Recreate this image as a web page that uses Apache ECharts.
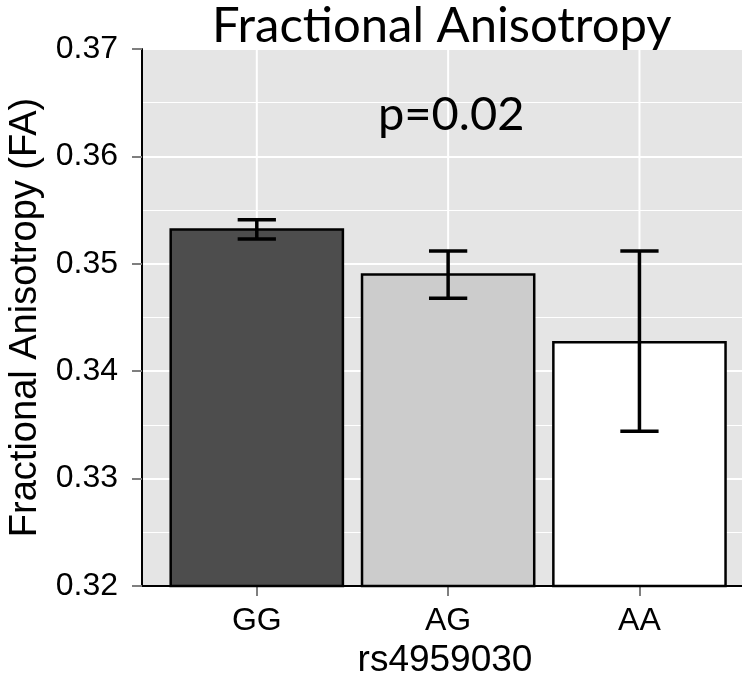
<!DOCTYPE html>
<html>
<head>
<meta charset="utf-8">
<script src="https://cdn.jsdelivr.net/npm/echarts@6/dist/echarts.min.js"></script>
<style>
html,body{margin:0;padding:0;background:#fff;}
#chart{width:742px;height:678px;}
</style>
</head>
<body>
<div id="chart"></div>
<script>
// ---- data ----
const categories = ['GG', 'AG', 'AA'];
const means = [0.3532, 0.3490, 0.3427];
const errLow = [0.3523, 0.3468, 0.3344];
const errHigh = [0.3541, 0.3512, 0.3512];
const barColors = ['#4D4D4D', '#CCCCCC', '#FFFFFF'];
const yMin = 0.32, yMax = 0.37, yStep = 0.01;
const xPositions = [1, 2, 3];
const pLabel = 'p=0.02';

const chart = echarts.init(document.getElementById('chart'), null, {renderer: 'canvas'});

const barData = categories.map((c, i) => [xPositions[i], means[i], i]);
const errData = categories.map((c, i) => [xPositions[i], errLow[i], errHigh[i]]);

const option = {
  backgroundColor: '#ffffff',
  animation: false,
  title: [
    {
      text: 'Fractional Anisotropy',
      left: 212, top: 2, padding: 0,
      textStyle: {fontFamily: 'Lato', fontWeight: 'normal', fontSize: 49, color: '#000'}
    },
    {
      text: pLabel,
      left: 378, top: 91, padding: 0,
      textStyle: {fontFamily: 'Lato', fontWeight: 'normal', fontSize: 47, color: '#000'}
    }
  ],
  grid: {
    left: 142, right: 0, top: 49, bottom: 92,
    containLabel: false, outerBoundsMode: 'none',
    show: true, backgroundColor: '#E5E5E5', borderWidth: 0
  },
  xAxis: {
    type: 'value', min: 0.4, max: 3.536,
    name: 'rs4959030', nameLocation: 'middle', nameGap: 43,
    nameTextStyle: {fontFamily: 'Liberation Sans', fontSize: 37, color: '#000', padding: [0, 0, 0, 6]},
    axisLine: {show: true, lineStyle: {color: '#000', width: 2}},
    axisTick: {show: true, customValues: xPositions, length: 10, lineStyle: {color: '#7F7F7F', width: 2}},
    axisLabel: {
      customValues: xPositions, fontFamily: 'Liberation Sans', fontSize: 32, color: '#000', margin: 19,
      formatter: v => categories[Math.round(v) - 1]
    },
    splitLine: {show: false}
  },
  yAxis: {
    type: 'value', min: yMin, max: yMax, interval: yStep,
    name: 'Fractional Anisotropy (FA)', nameLocation: 'middle', nameGap: 90,
    nameTextStyle: {fontFamily: 'Liberation Sans', fontSize: 38, color: '#000'},
    axisLine: {show: true, lineStyle: {color: '#000', width: 2}},
    axisTick: {show: true, length: 10, lineStyle: {color: '#7F7F7F', width: 2}},
    axisLabel: {fontFamily: 'Liberation Sans', fontSize: 32, color: '#000', margin: 24,
      formatter: v => v.toFixed(2)},
    splitLine: {show: true, lineStyle: {color: '#FFFFFF', width: 2}},
    minorTick: {show: false, splitNumber: 2},
    minorSplitLine: {show: true, lineStyle: {color: '#FFFFFF', width: 1}}
  },
  series: [
    {
      type: 'custom', name: 'vgrid', z: 1, silent: true,
      data: xPositions.map(x => [x]),
      renderItem: (params, api) => {
        const a = api.coord([api.value(0), yMin]);
        const b = api.coord([api.value(0), yMax]);
        return {type: 'line', shape: {x1: a[0], y1: a[1], x2: b[0], y2: b[1]},
          style: {stroke: '#FFFFFF', lineWidth: 2}};
      }
    },
    {
      type: 'custom', name: 'bars', z: 2,
      data: barData,
      renderItem: (params, api) => {
        const x = api.value(0), v = api.value(1), idx = api.value(2);
        const tl = api.coord([x - 0.45, v]);
        const br = api.coord([x + 0.45, yMin]);
        return {type: 'rect', shape: {x: tl[0], y: tl[1], width: br[0] - tl[0], height: br[1] - tl[1]},
          style: {fill: barColors[idx], stroke: '#000', lineWidth: 2.5}};
      }
    },
    {
      type: 'custom', name: 'errors', z: 3,
      data: errData,
      renderItem: (params, api) => {
        const x = api.value(0), lo = api.value(1), hi = api.value(2);
        const pLo = api.coord([x, lo]), pHi = api.coord([x, hi]);
        const l = api.coord([x - 0.1, lo])[0], r = api.coord([x + 0.1, lo])[0];
        const st = {stroke: '#000', lineWidth: 3.5};
        return {type: 'group', children: [
          {type: 'line', shape: {x1: pLo[0], y1: pLo[1], x2: pHi[0], y2: pHi[1]}, style: st},
          {type: 'line', shape: {x1: l, y1: pLo[1], x2: r, y2: pLo[1]}, style: st},
          {type: 'line', shape: {x1: l, y1: pHi[1], x2: r, y2: pHi[1]}, style: st}
        ]};
      }
    }
  ]
};
chart.setOption(option);
</script>
</body>
</html>
